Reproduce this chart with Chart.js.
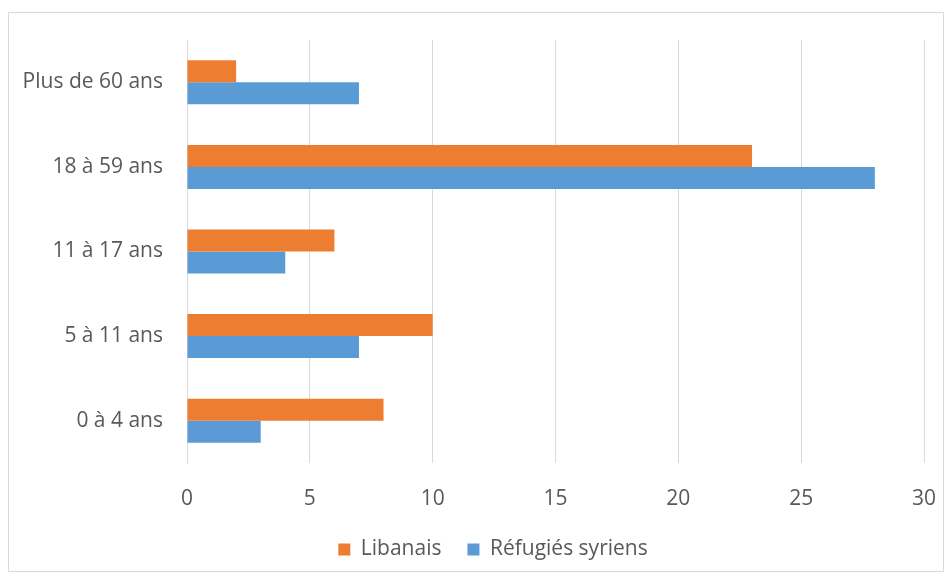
<!DOCTYPE html>
<html>
<head>
<meta charset="utf-8">
<script src="https://cdn.jsdelivr.net/npm/chart.js@4"></script>
<style>
  html, body { margin: 0; padding: 0; background: #fff; }
  #wrap { position: relative; width: 952px; height: 576px; }
  /* the thin gray frame round the chart */
  #frame { position: absolute; left: 8px; top: 12px; width: 936px; height: 560px; border: 1px solid #d9d9d9; box-sizing: border-box; pointer-events: none; }
  canvas { position: absolute; left: 0; top: 0; }
</style>
</head>
<body>
<div id="wrap">
  <div id="frame"></div>
  <canvas id="myChart" width="952" height="576"></canvas>
</div>
<script>
// age groups, top to bottom
const labels = ["Plus de 60 ans", "18 à 59 ans", "11 à 17 ans", "5 à 11 ans", "0 à 4 ans"];
// values
const libanais = [2, 23, 6, 10, 8];
const refugies = [7, 28, 4, 7, 3];
// x axis ticks
const xTicks = [0, 5, 10, 15, 20, 25, 30];

const txt = "#595959";
const gridCol = "#d9d9d9";
const font = { family: "'Open Sans', sans-serif", size: 21 };

const ctx = document.getElementById("myChart").getContext("2d");

const data = {
  labels,
  datasets: [
    { label: "Libanais", data: libanais, backgroundColor: "#ED7D31" },
    { label: "Réfugiés syriens", data: refugies, backgroundColor: "#5B9BD5" }
  ]
};

const config = {
  type: "bar",
  data: data,
  options: {
    indexAxis: "y",
    responsive: false,
    animation: false,
    barPercentage: 1,
    categoryPercentage: 0.52,
    // negative right padding pushes the legend centre to the right, like the original
    layout: { padding: { top: 40, right: -34, left: 0, bottom: 6 } },
    plugins: {
      tooltip: { enabled: false },
      legend: {
        position: "bottom",
        labels: { color: txt, font: font, boxWidth: 12, boxHeight: 12, padding: 26 }
      }
    },
    scales: {
      x: {
        min: 0,
        max: 30,
        afterBuildTicks: (axis) => { axis.ticks = xTicks.map(v => ({ value: v })); },
        ticks: { color: txt, font: font, padding: 23 },
        grid: { color: gridCol, drawTicks: false },
        border: { display: false },
        afterFit: (axis) => {
          axis.height = 50;
          // plot area ends at x = 924
          axis.paddingLeft = 0;
          axis.paddingRight = 28;
        }
      },
      y: {
        ticks: { color: txt, font: font, padding: 24 },
        grid: { display: false, drawTicks: false },
        border: { color: gridCol },
        afterFit: (axis) => { axis.width = 187; }
      }
    }
  }
};

const myChart = new Chart(ctx, config);
</script>
</body>
</html>
